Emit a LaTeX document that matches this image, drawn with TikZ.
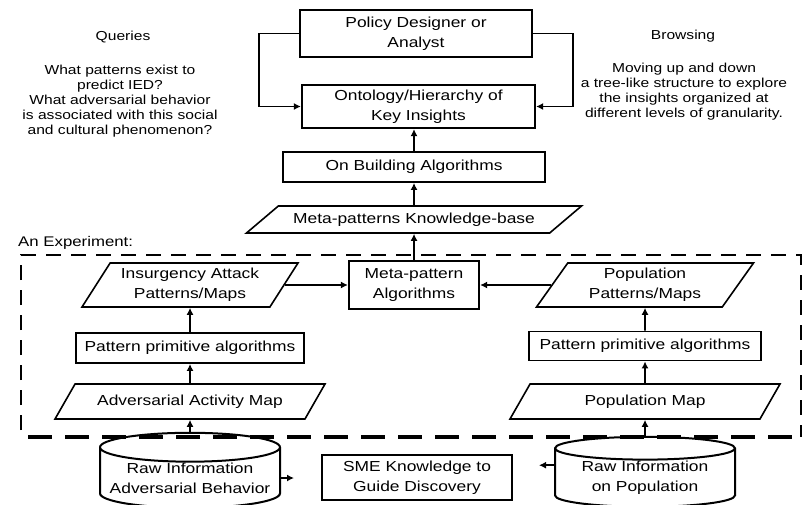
\documentclass[tikz,border=0pt]{standalone}
\usepackage{fontspec}
\setmainfont{Liberation Sans}[FakeStretch=1.2]
\usetikzlibrary{shapes.geometric}
\usetikzlibrary{positioning}
\usetikzlibrary{arrows.meta}

\begin{document}
\begin{tikzpicture}[x=1pt, y=-1pt,
          every node/.style = {font=\fontsize{14.5}{20}\selectfont, align=center},
          box/.style = {draw, line width=1.8pt, inner sep=0pt},
          keybox/.style = {box, line width=2.2pt},
          para/.style = {draw, line width=1.6pt, trapezium, trapezium stretches body,
                         trapezium left angle=#1, trapezium right angle=180-#1, inner sep=0pt},
          store/.style = {draw, line width=2pt, cylinder, shape border rotate=90,
                          aspect=0.18, inner sep=0pt},
          note/.style = {font=\fontsize{13}{15}\selectfont},
          frame/.style = {line width=1.3pt, dash pattern=on 15pt off 10pt},
          arr/.style = {-{Latex[length=7pt,width=7pt]}, line width=1.8pt}
          ]
          \useasboundingbox (0,0) rectangle (805,504);
          \clip (0,0) rectangle (805,504);

          % top: the analyst and the insights
          \node[keybox, minimum width=232, minimum height=47] (policy) at (416,33.5) {Policy Designer or\\Analyst};
          \node[keybox, minimum width=233, minimum height=43] (onto) at (418.5,106.5) {Ontology/Hierarchy of\\Key Insights};
          \node[box, minimum width=262, minimum height=30] (build) at (414,167) {On Building Algorithms};
          \node[para=23, minimum width=335, minimum height=27] (kb) at (414,219.5) {Meta-patterns Knowledge-base};

          % side notes
          \node[note] (qtitle) at (123,37) {Queries};
          \node[note, anchor=north, inner sep=0pt] (qtext) at (120,65) {What patterns exist to\\predict IED?\\What adversarial behavior\\is associated with this social\\and cultural phenomenon?};
          \node[note] (btitle) at (683,36) {Browsing};
          \node[note, anchor=north, inner sep=0pt] (btext) at (684,63) {Moving up and down\\a tree-like structure to explore\\the insights organized at\\different levels of granularity.};

          % the experiment
          \node[note, font=\fontsize{14}{15}\selectfont, anchor=west, inner sep=0pt] (exp) at (18,243) {An Experiment:};
          \draw[frame] (21,430) -- (21,255) -- (801,255) -- (801,437);
          \draw[line width=3.5pt, dash pattern=on 24pt off 13pt] (28,437) -- (795,437);

          \node[keybox, minimum width=130, minimum height=48] (meta) at (414,285) {Meta-pattern\\Algorithms};
          \node[para=50, minimum width=216, minimum height=44] (insurg) at (190,285) {Insurgency Attack\\Patterns/Maps};
          \node[para=47, minimum width=217, minimum height=44] (popmaps) at (645,285) {Population\\Patterns/Maps};
          \node[box, minimum width=228, minimum height=30] (primL) at (190,348) {Pattern primitive algorithms};
          \node[box, minimum width=232, minimum height=29] (primR) at (645,346) {Pattern primitive algorithms};
          \node[para=34, minimum width=270, minimum height=35] (advmap) at (190,401.5) {Adversarial Activity Map};
          \node[para=34, minimum width=270, minimum height=35] (popmap) at (645,401.5) {Population Map};

          % raw sources
          \node[store, minimum width=180, minimum height=70] (rawL) at (190,478) {Raw Information\\Adversarial Behavior};
          \node[store, minimum width=180, minimum height=70] (rawR) at (645,478) {Raw Information\\on Population};
          \node[box, minimum width=190, minimum height=45] (sme) at (417,477.5) {SME Knowledge to\\Guide Discovery};
          \coordinate (smeL) at (294,478);
          \coordinate (smeR) at (539,466);

          % connectors
          \draw[arr] (policy.west) -- ++(-40,0) |- (onto.west);
          \draw[arr] (policy.east) -- ++(40,0) |- (onto.east);
          \draw[arr] (build.north) -- (build.north |- onto.south);
          \draw[arr] (kb.north) -- (build.south);
          \draw[arr] (meta.north) -- (kb.south);
          \draw[arr] (insurg.east) -- (meta.west);
          \draw[arr] (popmaps.west) -- (meta.east);
          \draw[arr] (primL.north) -- (insurg.south);
          \draw[arr] (advmap.north) -- (primL.south);
          \draw[arr] (rawL.north) -- (advmap.south);
          \draw[arr] (primR.north) -- (popmaps.south);
          \draw[arr] (popmap.north) -- (primR.south);
          \draw[arr] (rawR.north) -- (popmap.south);
          \draw[arr] (rawL.0) -- (rawL.0 -| smeL);
          \draw[arr] (rawR.172) -- (rawR.172 -| smeR);
        \end{tikzpicture}
\end{document}
